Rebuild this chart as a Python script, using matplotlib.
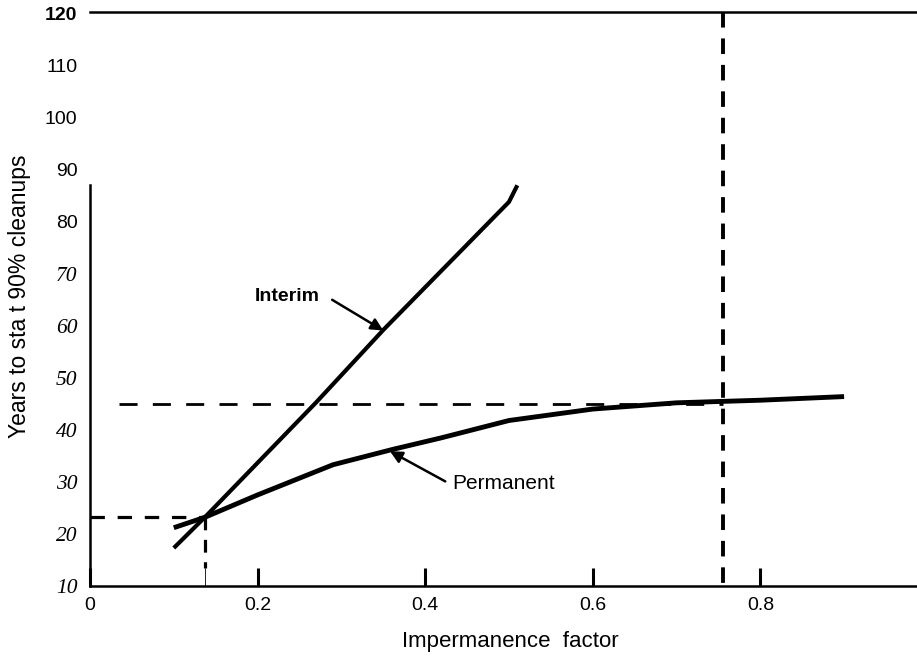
import matplotlib.pyplot as plt
from matplotlib.font_manager import FontProperties

# curve readings (impermanence factor vs years)
interim_x = [0.10, 0.137, 0.27, 0.35, 0.50, 0.51]
interim_y = [17.3, 23.2, 45.3, 59.2, 83.8, 87.0]

permanent_x = [0.10, 0.137, 0.20, 0.29, 0.36, 0.42, 0.50, 0.60, 0.70, 0.80, 0.90]
permanent_y = [21.2, 23.2, 27.5, 33.3, 36.2, 38.5, 41.8, 44.0, 45.2, 45.7, 46.4]

# guide lines
low_guide_x, low_guide_y = 0.137, 23.2
high_guide_x, high_guide_y = 0.755, 45.0

y_ticks = [10, 20, 30, 40, 50, 60, 70, 80, 90, 100, 110, 120]
x_ticks = [0, 0.2, 0.4, 0.6, 0.8]
x_tick_labels = ["0", "0.2", "0.4", "0.6", "0.8"]

sans = "Liberation Sans"
serif = "Liberation Serif"
plt.rcParams["font.family"] = sans

fig = plt.figure(figsize=(9.17, 6.59), dpi=100)
ax = fig.add_axes([90 / 917, 73 / 659, 827 / 917, 574 / 659])
ax.set_xlim(0, 0.987)
ax.set_ylim(10, 120.3)

ax.plot(interim_x, interim_y, color="black", lw=3.0, solid_capstyle="butt")
ax.plot(permanent_x, permanent_y, color="black", lw=3.5, solid_capstyle="butt")

# dashed reading lines
ax.plot([0.035, high_guide_x], [high_guide_y, high_guide_y], color="black",
        lw=2.0, dashes=(6.5, 5.5))
ax.plot([0, low_guide_x], [low_guide_y, low_guide_y], color="black",
        lw=2.3, dashes=(4.5, 4))
ax.plot([low_guide_x, low_guide_x], [low_guide_y, 13.5], color="black",
        lw=2.3, dashes=(4, 3))
ax.plot([high_guide_x, high_guide_x], [120.3, 10], color="black",
        lw=2.8, dashes=(4, 2.8))

# labels and pointer arrows
arrow_style = dict(arrowstyle="-|>", color="black", lw=1.8,
                   mutation_scale=18, shrinkA=0, shrinkB=0)
ax.text(0.236, 65.6, "Interim", fontsize=14, fontweight="bold",
        ha="center", va="center")
ax.annotate("", xy=(0.35, 59.1), xytext=(0.289, 65.0), arrowprops=arrow_style)
ax.text(0.432, 29.7, "Permanent", fontsize=15, ha="left", va="center")
ax.annotate("", xy=(0.358, 35.9), xytext=(0.424, 30.1), arrowprops=arrow_style)

# spines
ax.spines["right"].set_visible(False)
ax.spines["left"].set_bounds(10, 87)
for side in ["left", "bottom", "top"]:
    ax.spines[side].set_linewidth(1.8)

ax.set_xticks(x_ticks)
ax.set_xticklabels(x_tick_labels)
ax.set_xticks([low_guide_x], minor=True)
ax.tick_params(axis="x", which="major", direction="in", length=13, width=2.2,
               labelsize=14, pad=8)
ax.tick_params(axis="x", which="minor", direction="in", length=13, width=0.6)
ax.tick_params(axis="y", length=0, labelsize=14, pad=9)
ax.set_yticks(y_ticks)
ax.set_yticklabels([str(v) for v in y_ticks])

for lbl, v in zip(ax.get_yticklabels(), y_ticks):
    if v == 120:
        lbl.set_fontproperties(FontProperties(family=sans, weight="bold", size=14))
    elif v in (10, 20, 30, 40, 50, 60, 70):
        lbl.set_fontproperties(FontProperties(family=serif, style="italic", size=15.5))
    else:
        lbl.set_fontproperties(FontProperties(family=sans, size=14))

fig.text(20 / 917, 1 - 296 / 659, "Years to sta t 90% cleanups", fontsize=16.5,
         rotation=90, ha="center", va="center")
fig.text(510 / 917, 1 - 642 / 659, "Impermanence  factor", fontsize=16,
         ha="center", va="center")

fig.savefig("out.png", dpi=100, facecolor="white")
